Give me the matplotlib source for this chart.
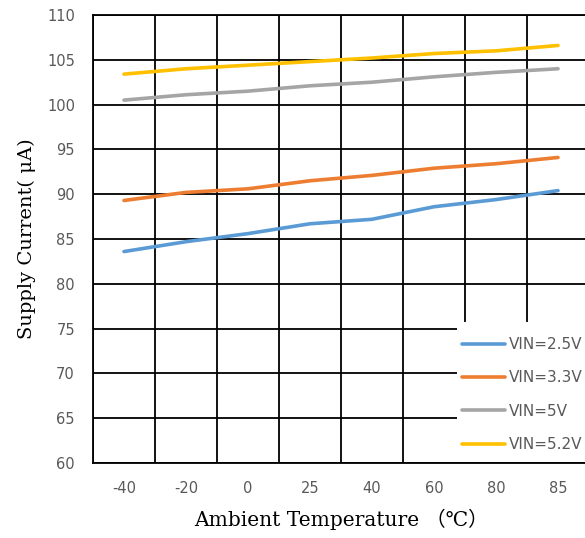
import matplotlib
matplotlib.use("Agg")
import matplotlib.pyplot as plt
from matplotlib.patches import Rectangle
import numpy as np

temps = ["-40", "-20", "0", "25", "40", "60", "80", "85"]
vin_2_5 = [83.6, 84.7, 85.6, 86.7, 87.2, 88.6, 89.4, 90.4]
vin_3_3 = [89.3, 90.2, 90.6, 91.5, 92.1, 92.9, 93.4, 94.1]
vin_5_0 = [100.5, 101.1, 101.5, 102.1, 102.5, 103.1, 103.6, 104.0]
vin_5_2 = [103.4, 104.0, 104.4, 104.8, 105.2, 105.7, 106.0, 106.6]
series_labels = ["VIN=2.5V", "VIN=3.3V", "VIN=5V", "VIN=5.2V"]
colors = ["#5B9BD5", "#ED7D31", "#A5A5A5", "#FFC000"]
y_ticks = [60, 65, 70, 75, 80, 85, 90, 95, 100, 105, 110]

W, H = 585, 538
fig = plt.figure(figsize=(W / 100, H / 100), dpi=100)
ax = fig.add_axes([93 / W, 1 - 463 / H, 496 / W, 448 / H])

x = np.arange(len(temps))
for vals, lab, c in zip([vin_2_5, vin_3_3, vin_5_0, vin_5_2], series_labels, colors):
    ax.plot(x, vals, color=c, lw=2.6, label=lab, solid_capstyle="round", zorder=3)

ax.set_xlim(-0.5, len(temps) - 0.5)
ax.set_ylim(60, 110)
ax.set_yticks(y_ticks)
ax.set_xticks(x)
ax.set_xticklabels(temps)
# category boundary grid lines
ax.set_xticks(np.arange(-0.5, len(temps), 1.0), minor=True)
ax.grid(False)
ax.xaxis.grid(True, which="minor", color="black", lw=1.3)
ax.yaxis.grid(True, which="major", color="black", lw=1.3)
ax.set_axisbelow(True)
ax.tick_params(axis="both", which="both", length=0)
ax.tick_params(axis="y", pad=13, labelsize=10.5, labelcolor="#595959")
ax.tick_params(axis="x", pad=13, labelsize=10.5, labelcolor="#595959")
for s in ax.spines.values():
    s.set_color("black")
    s.set_linewidth(1.3)

serif = ["DejaVu Serif", "Noto Sans CJK SC"]
ax.set_xlabel("Ambient Temperature （℃）", family=serif, fontsize=14.5, labelpad=9)
ax.set_ylabel("Supply Current( μA)", family=serif, fontsize=14, labelpad=8)

# white background box behind the legend (hides the grid there)
bg = Rectangle(((457 - 93) / 496, 0.0022), 0.3, (462 - 322) / 448,
               transform=ax.transAxes, facecolor="white", edgecolor="none",
               zorder=2.4, clip_on=False)
ax.add_patch(bg)

leg = ax.legend(loc="lower left", bbox_to_anchor=((462 - 93) / 496, 11.0 / 448),
                frameon=False, fontsize=11, labelcolor="#595959",
                handlelength=2.8, handletextpad=0.25, borderpad=0,
                labelspacing=1.2, borderaxespad=0)
leg.set_zorder(5)

fig.savefig("out.png", dpi=100)
